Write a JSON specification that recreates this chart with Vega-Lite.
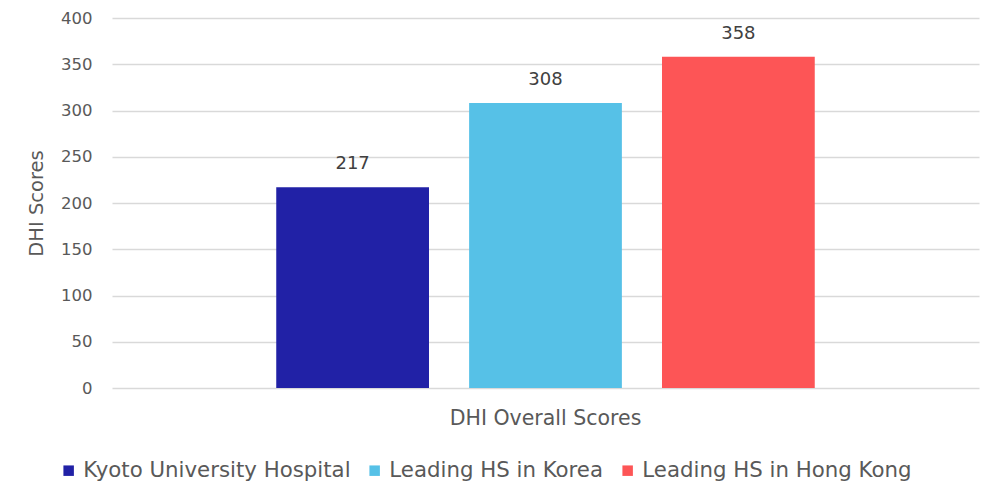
{
  "$schema": "https://vega.github.io/schema/vega-lite/v6.json",
  "autosize": {"type": "none"},
  "width": 867,
  "height": 370,
  "padding": {"left": 112, "top": 18, "right": 8, "bottom": 98},
  "background": "white",
  "config": {
    "font": "DejaVu Sans",
    "view": {"stroke": null},
    "axis": {"labelColor": "#595959", "titleColor": "#595959", "labelFont": "DejaVu Sans", "titleFont": "DejaVu Sans"}
  },
  "data": {
    "values": [
      {"measure": "DHI Overall Scores", "series": "Kyoto University Hospital", "score": 217},
      {"measure": "DHI Overall Scores", "series": "Leading HS in Korea", "score": 308},
      {"measure": "DHI Overall Scores", "series": "Leading HS in Hong Kong", "score": 358}
    ]
  },
  "encoding": {
    "x": {
      "field": "measure",
      "type": "nominal",
      "scale": {"paddingInner": 0, "paddingOuter": 0.305},
      "axis": {"title": null, "labelAngle": 0, "labelFontSize": 20.5, "labelPadding": 20, "labelLimit": 500, "ticks": false, "domain": false}
    },
    "xOffset": {
      "field": "series",
      "type": "nominal",
      "sort": ["Kyoto University Hospital", "Leading HS in Korea", "Leading HS in Hong Kong"],
      "scale": {"paddingInner": 0.208, "paddingOuter": 0}
    },
    "y": {
      "field": "score",
      "type": "quantitative",
      "scale": {"domain": [0, 400]},
      "axis": {
        "title": "DHI Scores",
        "titleFontSize": 19.5,
        "titleFontWeight": "normal",
        "titlePadding": 14,
        "labelFontSize": 16.5,
        "labelPadding": 20,
        "values": [0, 50, 100, 150, 200, 250, 300, 350, 400],
        "ticks": false,
        "domain": false,
        "gridColor": "#d9d9d9",
        "gridWidth": 1.3
      }
    }
  },
  "layer": [
    {
      "mark": {"type": "bar"},
      "encoding": {
        "color": {
          "field": "series",
          "type": "nominal",
          "sort": ["Kyoto University Hospital", "Leading HS in Korea", "Leading HS in Hong Kong"],
          "scale": {
            "domain": ["Kyoto University Hospital", "Leading HS in Korea", "Leading HS in Hong Kong"],
            "range": ["#2121a6", "#56c1e7", "#fd5556"]
          },
          "legend": {
            "title": null,
            "orient": "none",
            "direction": "horizontal",
            "legendX": -54,
            "legendY": 442,
            "symbolType": "square",
            "symbolSize": 110,
            "symbolStrokeWidth": 0,
            "labelFontSize": 21.3,
            "labelColor": "#595959",
            "labelFont": "DejaVu Sans",
            "labelOffset": 4,
            "columnPadding": 13,
            "labelLimit": 400
          }
        }
      }
    },
    {
      "mark": {"type": "text", "baseline": "alphabetic", "dy": -18, "fontSize": 18, "color": "#404040", "font": "DejaVu Sans"},
      "encoding": {
        "text": {"field": "score", "type": "quantitative"}
      }
    }
  ]
}
